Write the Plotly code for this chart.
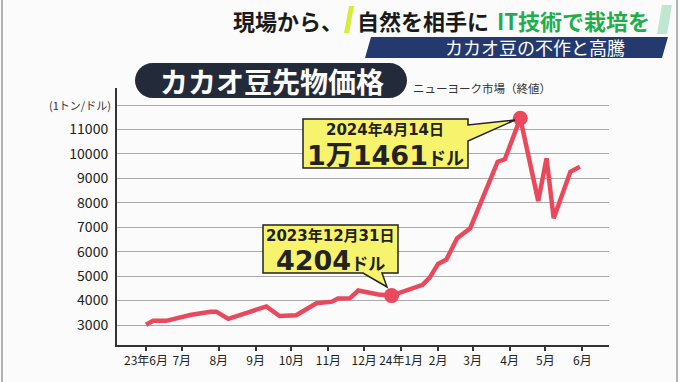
import plotly.graph_objects as go

# ---- data ----
dates = ["2023-06-01", "2023-06-07", "2023-06-18", "2023-07-08", "2023-07-25", "2023-07-30",
         "2023-08-09", "2023-08-25", "2023-09-10", "2023-09-21", "2023-10-05", "2023-10-22",
         "2023-11-04", "2023-11-09", "2023-11-19", "2023-11-26", "2023-12-13", "2023-12-24",
         "2024-01-19", "2024-01-25", "2024-02-01", "2024-02-08", "2024-02-17", "2024-02-28",
         "2024-03-22", "2024-03-28", "2024-04-10", "2024-04-25", "2024-05-02", "2024-05-08",
         "2024-05-22", "2024-05-30"]
prices = [3010, 3170, 3170, 3410, 3545, 3545,
          3250, 3490, 3760, 3370, 3400, 3890,
          3955, 4085, 4090, 4410, 4250, 4204,
          4640, 4940, 5500, 5680, 6550, 6960,
          9680, 9780, 11461, 8070, 9820, 7370,
          9270, 9470]

highlight_dates = ["2023-12-24", "2024-04-10"]
highlight_prices = [4204, 11461]

tick_dates = ["2023-06-01", "2023-07-01", "2023-08-01", "2023-09-01", "2023-10-01", "2023-11-01",
              "2023-12-01", "2024-01-01", "2024-02-01", "2024-03-01", "2024-04-01", "2024-05-01",
              "2024-06-01"]
tick_labels = ["23年6月", "7月", "8月", "9月", "10月", "11月", "12月", "24年1月", "2月", "3月",
               "4月", "5月", "6月"]
y_ticks = [3000, 4000, 5000, 6000, 7000, 8000, 9000, 10000, 11000, 12000]
y_labels = ["3000", "4000", "5000", "6000", "7000", "8000", "9000", "10000", "11000", ""]

FONT = "Noto Sans CJK JP"
WIDE = "DejaVu Sans, Noto Sans CJK JP"
W, H = 680, 382
L, R, T, B = 117, 609, 88, 345


def px(x):
    return (x - L) / (R - L)


def py(y):
    return (B - y) / (B - T)


def poly(pts):
    s = "M %.5f,%.5f" % (px(pts[0][0]), py(pts[0][1]))
    for x, y in pts[1:]:
        s += " L %.5f,%.5f" % (px(x), py(y))
    return s + " Z"


def curve_path(pts):
    s = ""
    for cmd, coords in pts:
        s += cmd + " " + " ".join(f"{px(x):.5f},{py(y):.5f}" for x, y in coords) + " "
    return s + "Z"


fig = go.Figure()

fig.add_trace(go.Scatter(x=dates, y=prices, mode="lines",
                         line=dict(color="#e8495c", width=4.5), hoverinfo="skip"))
fig.add_trace(go.Scatter(x=highlight_dates, y=highlight_prices, mode="markers",
                         marker=dict(color="#e8495c", size=15), hoverinfo="skip"))

shapes = []
# frame edges
shapes.append(dict(type="line", xref="paper", yref="paper", x0=px(2), x1=px(2), y0=py(0), y1=py(382),
                   line=dict(color="#9a9a9a", width=1.5)))
shapes.append(dict(type="line", xref="paper", yref="paper", x0=px(677), x1=px(677), y0=py(0), y1=py(382),
                   line=dict(color="#9a9a9a", width=1.5)))
# header accent bars
shapes.append(dict(type="path", xref="paper", yref="paper",
                   path=poly([(349, 6), (354, 6), (349, 33), (344, 33)]),
                   fillcolor="#d6ec3a", line=dict(width=0)))
shapes.append(dict(type="path", xref="paper", yref="paper",
                   path=poly([(662, 5), (672, 5), (667, 34), (657, 34)]),
                   fillcolor="#bfe6d0", line=dict(width=0)))
# navy band
shapes.append(dict(type="path", xref="paper", yref="paper",
                   path=poly([(371, 37), (668, 37), (662, 58), (365, 58)]),
                   fillcolor="#243a6e", line=dict(width=0)))
# title pill
r = 17.5
k = 0.5523 * r
x0p, x1p, y0p, y1p = 135, 407, 63, 98
cy = (y0p + y1p) / 2
shapes.append(dict(type="path", xref="paper", yref="paper",
                   path=curve_path([("M", [(x0p + r, y0p)]), ("L", [(x1p - r, y0p)]),
                                    ("C", [(x1p - r + k, y0p), (x1p, cy - k), (x1p, cy)]),
                                    ("C", [(x1p, cy + k), (x1p - r + k, y1p), (x1p - r, y1p)]),
                                    ("L", [(x0p + r, y1p)]),
                                    ("C", [(x0p + r - k, y1p), (x0p, cy + k), (x0p, cy)]),
                                    ("C", [(x0p, cy - k), (x0p + r - k, y0p), (x0p + r, y0p)])]),
                   fillcolor="#232a3a", line=dict(width=0)))
# callout boxes
shapes.append(dict(type="path", xref="paper", yref="paper",
                   path=poly([(263, 225), (398, 225), (398, 273), (382, 273), (387, 287),
                              (363, 273), (263, 273)]),
                   fillcolor="#f8f36c", line=dict(color="#222", width=1.5)))
shapes.append(dict(type="path", xref="paper", yref="paper",
                   path=poly([(303, 119), (468, 119), (468, 125), (515, 120), (468, 141),
                              (468, 168), (303, 168)]),
                   fillcolor="#f8f36c", line=dict(color="#222", width=1.5)))

ann = []


def A(text, x, y, size, color="#222", xanchor="center", yanchor="middle", family=FONT):
    ann.append(dict(text=text, xref="paper", yref="paper", x=px(x), y=py(y), showarrow=False,
                    xanchor=xanchor, yanchor=yanchor, font=dict(family=family, size=size, color=color)))


A("<b>現場から、</b>", 345, 20, 22, color="#1a1a1a", xanchor="right")
A("<b>自然を相手に</b>", 355, 20, 22, color="#1a1a1a", xanchor="left")
A("<b>IT技術で栽培を</b>", 652, 20, 22, color="#1fae4b", xanchor="right")
A("カカオ豆の不作と高騰", 535, 47.5, 18, color="#ffffff")
A("<b>カカオ豆先物価格</b>", 272, 80.5, 28, color="#ffffff")
A("ニューヨーク市場（終値）", 411, 88, 11.5, color="#333", xanchor="left")
A("(1トン/ドル)", 113, 105, 11, color="#333", xanchor="right")
A("<b>2023年12月31日</b>", 330, 236, 15, family=WIDE)
A("<b>4204<span style='font-size:17px'>ドル</span></b>", 330, 260, 27, family=WIDE)
A("<b>2024年4月14日</b>", 385, 130, 15, family=WIDE)
A("<b>1万1461<span style='font-size:18px'>ドル</span></b>", 385, 155, 27, family=WIDE)

fig.update_layout(
    width=W, height=H,
    margin=dict(l=L, r=W - R, t=T, b=H - B),
    paper_bgcolor="#fbfbfb", plot_bgcolor="#fbfbfb",
    showlegend=False,
    shapes=shapes, annotations=ann,
    font=dict(family=FONT, color="#222"),
    xaxis=dict(type="date", range=["2023-05-07 16:00", "2024-06-23 09:20"],
               tickvals=tick_dates, ticktext=tick_labels, showgrid=False, zeroline=False,
               showline=True, linecolor="#333", linewidth=2, tickangle=0, automargin=False,
               ticks="outside", ticklen=4, tickwidth=1.5, tickcolor="#333",
               tickfont=dict(size=12, color="#222", family=FONT)),
    yaxis=dict(range=[2182, 12697], tickvals=y_ticks, ticktext=y_labels,
               showgrid=True, gridcolor="#aaaaaa", gridwidth=1, zeroline=False,
               showline=True, linecolor="#333", linewidth=2, ticks="", automargin=False,
               ticklabelstandoff=4,
               tickfont=dict(size=14, color="#222", family=FONT)),
)

fig.write_html("out.html", config={"displayModeBar": False},
               post_script="document.body.style.margin='0';")
